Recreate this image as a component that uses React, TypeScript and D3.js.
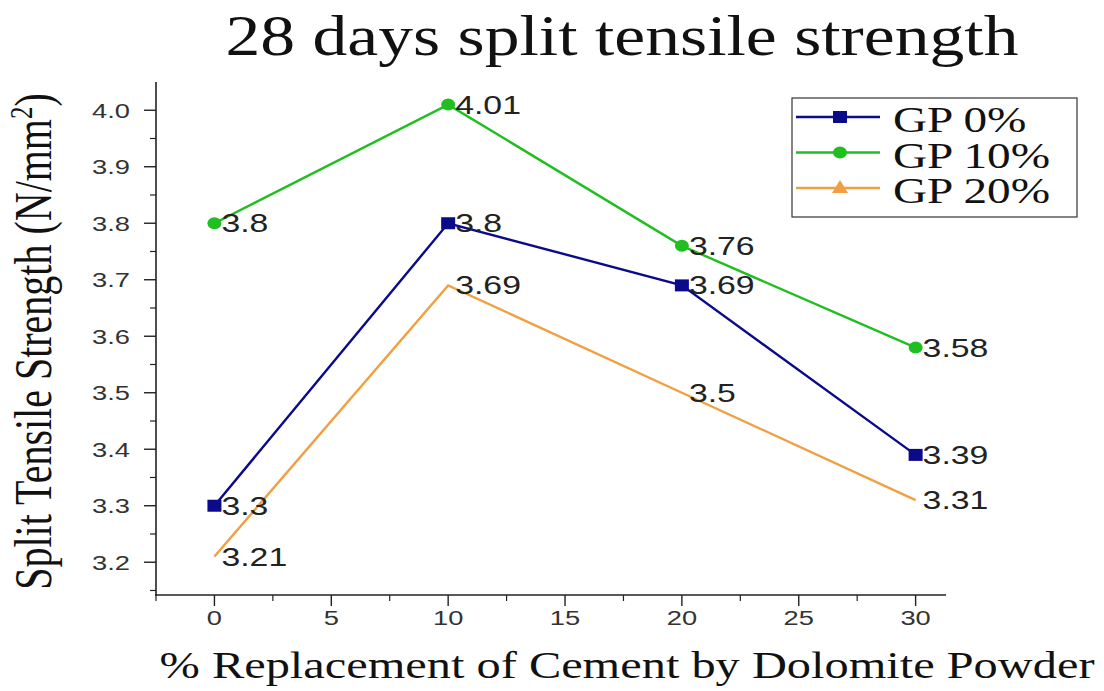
import React from "react";
import * as d3 from "d3";

const xValues = [0, 10, 20, 30];
const gp0 = [3.3, 3.8, 3.69, 3.39];
const gp10 = [3.8, 4.01, 3.76, 3.58];
const gp20 = [3.21, 3.69, 3.5, 3.31];
const seriesNames = ["GP 0%", "GP 10%", "GP 20%"];
const seriesColors = ["#0a0a8a", "#1fbf1f", "#f0a040"];
const xTicks = [0, 5, 10, 15, 20, 25, 30];
const yTicks = [3.2, 3.3, 3.4, 3.5, 3.6, 3.7, 3.8, 3.9, 4.0];

const SX = 1.3;

export default function App() {
  const W = 1104, H = 691;
  const x = d3.scaleLinear().domain([-2.5, 31.3]).range([156, 946]);
  const y = d3.scaleLinear().domain([3.142, 4.05]).range([595, 82]);
  const series = [gp0, gp10, gp20];
  const line = d3.line<number>().x((_, i) => x(xValues[i])).y((d) => y(d));
  const xMinor = d3.range(-2.5, 31.3, 2.5).filter((v) => v % 5 !== 0);
  const yMinor = d3.range(3.15, 4.05, 0.1).map((v) => +v.toFixed(2));
  const sans = "Liberation Sans, Arial, sans-serif";
  const serif = "Liberation Serif, Times New Roman, serif";

  const marker = (i: number, cx: number, cy: number, key: string) => {
    const c = seriesColors[i];
    if (i === 0) return <rect key={key} x={cx - 7} y={cy - 6} width={14} height={12} fill={c} />;
    if (i === 1) return <ellipse key={key} cx={cx} cy={cy} rx={7} ry={6} fill={c} />;
    return <path key={key} d={`M${cx},${cy - 8}L${cx + 8},${cy + 5}L${cx - 8},${cy + 5}Z`} fill={c} />;
  };

  const T = (props: {
    x: number; y: number; size: number; family: string; anchor?: string; fill?: string;
    sx?: number; len?: number; children: React.ReactNode;
  }) => (
    <text
      transform={`translate(${props.x},${props.y}) scale(${props.sx ?? SX},1)`}
      textAnchor={props.anchor ?? "start"}
      fontFamily={props.family}
      fontSize={props.size}
      fill={props.fill ?? "#111"}
      textLength={props.len}
      lengthAdjust={props.len ? "spacingAndGlyphs" : undefined}
    >
      {props.children}
    </text>
  );

  return (
    <svg width={W} height={H} style={{ position: "absolute", left: 0, top: 0, background: "#fff" }}>
      <T x={622} y={55} size={56} family={serif} anchor="middle" len={793 / SX}>
        28 days split tensile strength
      </T>
      {/* axes */}
      <line x1={156} y1={82} x2={156} y2={596} stroke="#222" strokeWidth={1.6} />
      <line x1={155} y1={595} x2={946} y2={595} stroke="#222" strokeWidth={1.6} />
      {yTicks.map((t) => (
        <g key={"y" + t}>
          <line x1={144} x2={156} y1={y(t)} y2={y(t)} stroke="#222" strokeWidth={1.4} />
          <T x={130} y={y(t) + 7.5} size={21} family={sans} anchor="end" fill="#333">
            {t.toFixed(1)}
          </T>
        </g>
      ))}
      {yMinor.map((t) => (
        <line key={"ym" + t} x1={150} x2={156} y1={y(t)} y2={y(t)} stroke="#222" strokeWidth={1.2} />
      ))}
      {xTicks.map((t) => (
        <g key={"x" + t}>
          <line x1={x(t)} x2={x(t)} y1={595} y2={606} stroke="#222" strokeWidth={1.4} />
          <T x={x(t)} y={625} size={21} family={sans} anchor="middle" fill="#333">
            {t}
          </T>
        </g>
      ))}
      {xMinor.map((t) => (
        <line key={"xm" + t} x1={x(t)} x2={x(t)} y1={595} y2={601} stroke="#222" strokeWidth={1.2} />
      ))}
      <text
        transform={`translate(51,${(88 + 595) / 2}) scale(${SX},1) rotate(-90)`}
        textAnchor="middle"
        fontFamily={serif}
        fontSize={40}
        fill="#111"
      >
        Split Tensile Strength (N/mm<tspan dy={-15} fontSize={25}>2</tspan><tspan dy={15}>)</tspan>
      </text>
      <T x={627} y={678} size={37} family={serif} anchor="middle" len={935 / SX}>
        % Replacement of Cement by Dolomite Powder
      </T>
      {/* lines */}
      {series.map((s, i) => (
        <path key={"l" + i} d={line(s) || ""} fill="none" stroke={seriesColors[i]} strokeWidth={2.4} />
      ))}
      {series.map((s, i) =>
        i < 2 ? s.map((v, j) => marker(i, x(xValues[j]), y(v), `m${i}-${j}`)) : null
      )}
      {series.map((s, i) =>
        s.map((v, j) => (
          <T key={`t${i}-${j}`} x={x(xValues[j]) + 7} y={y(v) + 9} size={26} family={sans} fill="#222">
            {String(v)}
          </T>
        ))
      )}
      {/* legend */}
      <rect x={792} y={98} width={285} height={119} fill="#fff" stroke="#333" strokeWidth={1.2} />
      {seriesNames.map((n, i) => {
        const ly = 117 + i * 35.5;
        return (
          <g key={"lg" + i}>
            <line x1={796} x2={880} y1={ly} y2={ly} stroke={seriesColors[i]} strokeWidth={2.4} />
            {marker(i, 840, ly, "lm" + i)}
            <T x={893} y={ly + 15} size={35} family={serif} sx={1.35}>
              {n}
            </T>
          </g>
        );
      })}
    </svg>
  );
}
